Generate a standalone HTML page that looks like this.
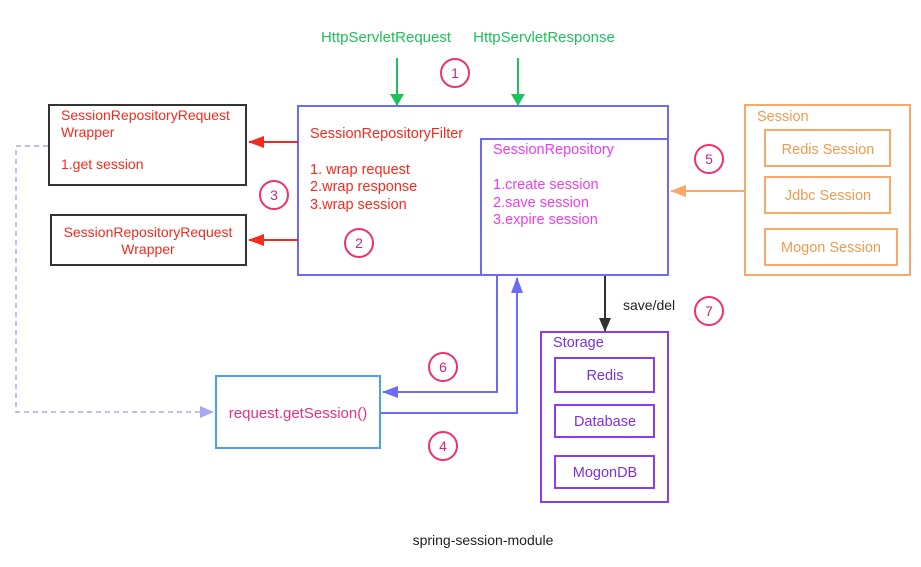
<!DOCTYPE html>
<html><head><style>
body{margin:0;background:#fff;width:921px;height:562px;overflow:hidden}
svg text{font-family:"Liberation Sans",sans-serif}
</style></head><body>
<svg width="921" height="562" xmlns="http://www.w3.org/2000/svg">
<defs>
<marker id="ag" markerWidth="12" markerHeight="14" refX="11" refY="7" orient="auto" markerUnits="userSpaceOnUse"><path d="M0,0 L12,7 L0,14z" fill="#1fc15a"/></marker>
<marker id="ar" markerWidth="16" markerHeight="12" refX="15" refY="6" orient="auto" markerUnits="userSpaceOnUse"><path d="M0,0 L16,6 L0,12z" fill="#f52a1e"/></marker>
<marker id="ao" markerWidth="16" markerHeight="12" refX="15" refY="6" orient="auto" markerUnits="userSpaceOnUse"><path d="M0,0 L16,6 L0,12z" fill="#f9a868"/></marker>
<marker id="ab" markerWidth="16" markerHeight="12" refX="15" refY="6" orient="auto" markerUnits="userSpaceOnUse"><path d="M0,0 L16,6 L0,12z" fill="#6b6bf7"/></marker>
<marker id="ad" markerWidth="14" markerHeight="12" refX="13" refY="6" orient="auto" markerUnits="userSpaceOnUse"><path d="M0,0 L14,6 L0,12z" fill="#a7a7f5"/></marker>
<marker id="ak" markerWidth="14" markerHeight="12" refX="13" refY="6" orient="auto" markerUnits="userSpaceOnUse"><path d="M0,0 L14,6 L0,12z" fill="#333"/></marker>
</defs>
<g font-size="15" fill="#1fc15a"><text x="386" y="42" text-anchor="middle">HttpServletRequest</text><text x="544" y="42" text-anchor="middle">HttpServletResponse</text></g>
<line x1="397" y1="58" x2="397" y2="105" stroke="#1fc15a" stroke-width="2" marker-end="url(#ag)"/>
<line x1="518" y1="58" x2="518" y2="105" stroke="#1fc15a" stroke-width="2" marker-end="url(#ag)"/>
<g fill="none" stroke="#f0306e" stroke-width="2">
<circle cx="455" cy="73" r="14"/><circle cx="274" cy="195" r="14"/><circle cx="359" cy="243" r="14"/><circle cx="709" cy="159" r="14"/><circle cx="443" cy="367" r="14"/><circle cx="443" cy="446" r="14"/><circle cx="709" cy="311" r="14"/></g>
<g font-size="14" fill="#d0208a" text-anchor="middle">
<text x="455" y="78">1</text><text x="274" y="200">3</text><text x="359" y="248">2</text><text x="709" y="164">5</text><text x="443" y="372">6</text><text x="443" y="451">4</text><text x="709" y="316">7</text></g>
<rect x="298" y="106" width="370" height="169" fill="none" stroke="#6b6bf7" stroke-width="2"/>
<rect x="481" y="139" width="187" height="136" fill="none" stroke="#6b6bf7" stroke-width="2"/>
<g font-size="14.5" fill="#f52a1e"><text x="310" y="138">SessionRepositoryFilter</text><text x="310" y="174">1. wrap request</text><text x="310" y="191">2.wrap response</text><text x="310" y="209">3.wrap session</text></g>
<g font-size="14.5" fill="#f03cf0"><text x="493" y="154">SessionRepository</text><text x="493" y="189">1.create session</text><text x="493" y="207">2.save session</text><text x="493" y="224">3.expire session</text></g>
<rect x="49" y="105" width="197" height="80" fill="none" stroke="#333" stroke-width="2"/>
<rect x="51" y="215" width="195" height="50" fill="none" stroke="#333" stroke-width="2"/>
<g font-size="14" fill="#f52a1e"><text x="61" y="120">SessionRepositoryRequest</text><text x="61" y="137">Wrapper</text><text x="61" y="169">1.get session</text>
<text x="148" y="237" text-anchor="middle">SessionRepositoryRequest</text><text x="148" y="254" text-anchor="middle">Wrapper</text></g>
<line x1="298" y1="142" x2="249" y2="142" stroke="#f52a1e" stroke-width="2" marker-end="url(#ar)"/>
<line x1="298" y1="240" x2="249" y2="240" stroke="#f52a1e" stroke-width="2" marker-end="url(#ar)"/>
<rect x="745" y="105" width="165" height="170" fill="none" stroke="#f9a868" stroke-width="2"/>
<g fill="none" stroke="#f9a868" stroke-width="2"><rect x="765" y="130" width="125" height="36"/><rect x="765" y="177" width="125" height="36"/><rect x="765" y="229" width="132" height="36"/></g>
<g font-size="14.5" fill="#f09a50"><text x="757" y="121">Session</text><text x="828" y="154" text-anchor="middle">Redis Session</text><text x="828" y="200" text-anchor="middle">Jdbc Session</text><text x="831" y="252" text-anchor="middle">Mogon Session</text></g>
<line x1="745" y1="191" x2="671" y2="191" stroke="#f9a868" stroke-width="2" marker-end="url(#ao)"/>
<line x1="605" y1="276" x2="605" y2="331" stroke="#333" stroke-width="2" marker-end="url(#ak)"/>
<text x="623" y="310" font-size="14" fill="#222">save/del</text>
<rect x="541" y="332" width="127" height="170" fill="none" stroke="#8a3cf0" stroke-width="2"/>
<g fill="none" stroke="#8a3cf0" stroke-width="2"><rect x="555" y="358" width="99" height="34"/><rect x="555" y="405" width="99" height="32"/><rect x="555" y="456" width="99" height="32"/></g>
<g font-size="14.5" fill="#7a30e0"><text x="553" y="347">Storage</text><text x="605" y="380" text-anchor="middle">Redis</text><text x="605" y="426" text-anchor="middle">Database</text><text x="605" y="477" text-anchor="middle">MogonDB</text></g>
<rect x="216" y="376" width="164" height="72" fill="none" stroke="#4aa0f0" stroke-width="2"/>
<text x="298" y="418" font-size="15" fill="#e83080" text-anchor="middle">request.getSession()</text>
<polyline points="497,276 497,392 383,392" fill="none" stroke="#6b6bf7" stroke-width="2" marker-end="url(#ab)"/>
<polyline points="381,413 517,413 517,278" fill="none" stroke="#6b6bf7" stroke-width="2" marker-end="url(#ab)"/>
<polyline points="48,146 16,146 16,412 213,412" fill="none" stroke="#a7a7f5" stroke-width="1.5" stroke-dasharray="5,4" marker-end="url(#ad)"/>
<text x="483" y="545" font-size="14" fill="#222" text-anchor="middle">spring-session-module</text>
</svg>
</body></html>
